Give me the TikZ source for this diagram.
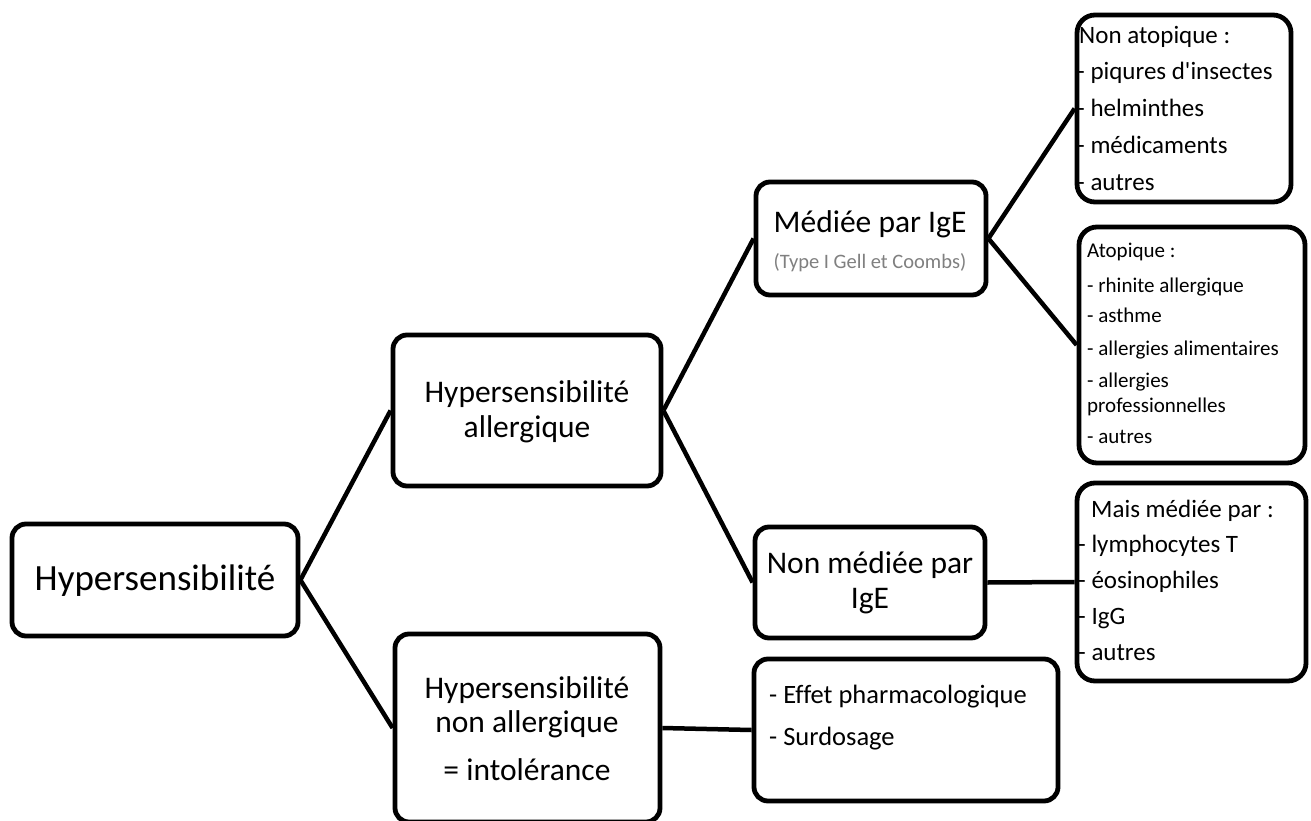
\documentclass[tikz,border=0pt]{standalone}
\usepackage{fontspec}
\setmainfont[Ligatures=NoCommon]{Carlito}
\definecolor{notegray}{RGB}{128,128,128}
\begin{document}
\begin{tikzpicture}[x=1pt,y=-1pt,
  box/.style={draw=black, line width=4.8pt, rounded corners=14pt, fill=white, inner sep=0pt},
  lbox/.style={box, rounded corners=18pt},
  link/.style={draw=black, line width=4.5pt},
  big/.style={anchor=base, inner sep=0pt, font=\fontsize{31.5}{38}\selectfont},
  huge/.style={anchor=base, inner sep=0pt, font=\fontsize{37}{44}\selectfont},
  note/.style={anchor=base, inner sep=0pt, text=notegray, font=\fontsize{20.5}{25}\selectfont},
  lista/.style={anchor=base west, inner sep=0pt, font=\fontsize{25}{30}\selectfont},
  listb/.style={anchor=base west, inner sep=0pt, font=\fontsize{21}{26}\selectfont},
  listc/.style={anchor=base west, inner sep=0pt, font=\fontsize{26.5}{32}\selectfont}]
\useasboundingbox (0,0) rectangle (1311,821);
\clip (0,0) rectangle (1311,821);

% boxes
\node[box, minimum width=286pt, minimum height=112pt] (b1) at (155,580) {};
\node[box, minimum width=268pt, minimum height=151pt] (b2) at (527,410.5) {};
\node[box, minimum width=230pt, minimum height=113pt] (b3) at (871,238.5) {};
\node[lbox, minimum width=214pt, minimum height=187pt] (b4) at (1184,108.5) {};
\node[lbox, minimum width=226pt, minimum height=236pt] (b5) at (1192,345) {};
\node[lbox, minimum width=229pt, minimum height=198pt] (b6) at (1191.5,582) {};
\node[box, minimum width=230pt, minimum height=111pt] (b7) at (870,582.5) {};
\node[box, minimum width=304pt, minimum height=142pt] (b8) at (906,730) {};
\node[box, minimum width=265pt, minimum height=188pt] (b9) at (527.5,728) {};

% connectors
\draw[link] (b1.east) -- (b2.west);
\draw[link] (b1.east) -- (b9.west);
\draw[link] (b2.east) -- (b3.west);
\draw[link] (b2.east) -- (b7.west);
\draw[link] (b3.east) -- (b4.west);
\draw[link] (b3.east) -- (b5.west);
\draw[link] (b7.east) -- (b6.west);
\draw[link] (b9.east) -- (b8.west);

% texts
\node[huge] (t1) at (155,590) {Hypersensibilité};

\node[big] (t2a) at (527,402) {Hypersensibilité};
\node[big] (t2b) at (527,437) {allergique};

\node[big] (t3a) at (870,232) {Médiée par IgE};
\node[note] (t3b) at (870,268) {(Type I Gell et Coombs)};

\node[big] (t7a) at (870,573) {Non médiée par};
\node[big] (t7b) at (870,608) {IgE};

\node[big] (t9a) at (527,698) {Hypersensibilité};
\node[big] (t9b) at (527,732) {non allergique};
\node[big] (t9c) at (527,780) {= intolérance};

\node[lista] (t4a) at (1079,44) {Non atopique :};
\node[lista] (t4b) at (1077,80) {- piqures d\textquotesingle insectes};
\node[lista] (t4c) at (1077,117) {- helminthes};
\node[lista] (t4d) at (1077,154) {- médicaments};
\node[lista] (t4e) at (1077,190) {- autres};

\node[listb] (t5a) at (1087,257) {Atopique :};
\node[listb] (t5b) at (1087,292) {- rhinite allergique};
\node[listb] (t5c) at (1087,322) {- asthme};
\node[listb] (t5d) at (1087,355) {- allergies alimentaires};
\node[listb] (t5e) at (1087,387) {- allergies};
\node[listb] (t5f) at (1087,412) {professionnelles};
\node[listb] (t5g) at (1087,443) {- autres};

\node[lista] (t6a) at (1091,517) {Mais médiée par :};
\node[lista] (t6b) at (1078,552) {- lymphocytes T};
\node[lista] (t6c) at (1078,588) {- éosinophiles};
\node[lista] (t6d) at (1078,624) {- IgG};
\node[lista] (t6e) at (1078,660) {- autres};

\node[listc] (t8a) at (769,703) {- Effet pharmacologique};
\node[listc] (t8b) at (769,745) {- Surdosage};
\end{tikzpicture}
\end{document}
